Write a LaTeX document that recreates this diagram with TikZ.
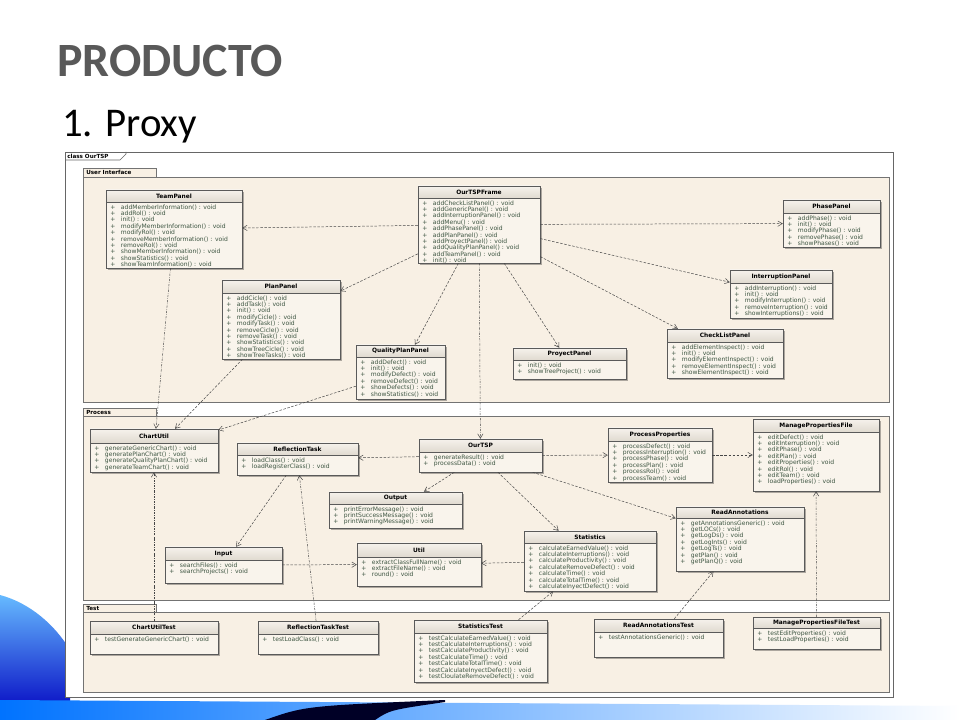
\documentclass[tikz,border=0pt]{standalone}
\usepackage{fontspec}
\setmainfont{Carlito}
\newfontfamily\umlfont{DejaVu Sans}
\usetikzlibrary{calc, fit, shadows, arrows.meta}

\definecolor{pkgfill}{RGB}{248,240,228}
\definecolor{clsfill}{RGB}{249,244,236}
\definecolor{headtop}{RGB}{246,242,236}
\definecolor{headbot}{RGB}{224,218,208}
\definecolor{clsline}{RGB}{90,90,90}
\definecolor{optext}{RGB}{62,86,66}
\definecolor{depline}{RGB}{70,70,70}
\definecolor{titlegray}{RGB}{89,89,89}

\tikzstyle{every node}=[font=\umlfont\fontsize{4.3}{4.3}\selectfont]
\tikzset{
	classbox/.style={draw=clsline, fill=clsfill, line width=0.35pt, inner sep=0pt,
		drop shadow={shadow xshift=1.1pt, shadow yshift=-1.1pt, fill=black, opacity=0.3}},
	classname/.style={inner sep=0pt, font=\umlfont\bfseries\fontsize{4.2}{4.2}\selectfont},
	members/.style={inner sep=0pt, anchor=north west, text=optext},
	pkgbox/.style={draw=black!55, fill=pkgfill, line width=0.6pt},
	pkglabel/.style={anchor=west, inner sep=0pt, font=\umlfont\bfseries\fontsize{4}{4}\selectfont},
	dep/.style={draw=depline, line width=0.35pt, dash pattern=on 1.8pt off 1.1pt,
		-{Straight Barb[length=3.2pt, width=3.8pt]}},
	depdot/.style={dep, dash pattern=on 1.6pt off 0.9pt on 0.4pt off 0.9pt}
}

% name, x1, y1, x2, y2, header bottom, title, operations
\newcommand{\umlclass}[8]{%
	\node[classbox, fit={(#2,#3) (#4,#5)}] (#1) {};
	\shade[top color=headtop, bottom color=headbot] (#2,#3) rectangle (#4,#6);
	\draw[clsline, line width=0.35pt] (#2,#3) rectangle (#4,#5) (#2,#6) -- (#4,#6);
	\node[classname] (#1-name) at ({(#2+#4)/2},{(#3+#6)/2}) {#7};
	\node[members] (#1-ops) at (#2+4,#6+2.2) {\begin{tabular}{@{}l@{}}#8\end{tabular}};
}
\newcommand{\op}[1]{\makebox[7.6pt][l]{+}#1 : void\\}

\begin{document}
\begin{tikzpicture}[x=0.025cm, y=-0.025cm]
	\useasboundingbox[fill=white] (0,0) rectangle (960,720);
	
	% slide decoration
	\shade[top color=cyan!55!blue!60, bottom color=blue!75!black] (0,595) .. controls (30,603) and (55,625) .. (70,650) -- (70,720) -- (0,720) -- cycle;
	\shade[left color=blue!55!cyan, right color=white] (0,700) -- (960,706) -- (960,720) -- (0,720) -- cycle;
	\fill[black!85!blue] (265,720) .. controls (305,706) .. (445,700) -- (445,702) .. controls (390,710) .. (375,720) -- cycle;
	
	% titles
	\node[anchor=base west, inner sep=0pt, text=titlegray, font=\fontsize{34}{34}\selectfont\bfseries] (title) at (57,77) {PRODUCTO};
	\node[anchor=base west, inner sep=0pt, text=black, font=\fontsize{29}{29}\selectfont] (subtitle) at (62,137) {1. Proxy};
	
	% frame
	\draw[black!60, line width=0.5pt, fill=white] (65,152) rectangle (893,697);
	\draw[black!60, line width=0.4pt] (65,160) -- (120,160) -- (126,154) -- (126,152);
	\node[pkglabel] (frametag) at (67,156) {class OurTSP};
	
	% packages
	\foreach \ytab/\ytop/\ybot/\pname in {168/177/402/User Interface, 408/416/600/Process, 604/612/692/Test} {
		\draw[pkgbox] (83,\ytab) rectangle (156,\ytop);
		\draw[pkgbox] (83,\ytop) rectangle (889,\ybot);
		\node[pkglabel] (pkg-\ytop) at (86,{(\ytab+\ytop)/2}) {\pname};
	}
	
	% User Interface
	\umlclass{teampanel}{106}{190}{242}{268}{202}{TeamPanel}{\op{addMemberInformation()}\op{addRol()}\op{init()}\op{modifyMemberInformation()}\op{modifyRol()}\op{removeMemberInformation()}\op{removeRol()}\op{showMemberInformation()}\op{showStatistics()}\op{showTeamInformation()}}
	\umlclass{frame}{418}{186}{540}{263}{198}{OurTSPFrame}{\op{addCheckListPanel()}\op{addGenericPanel()}\op{addInterruptionPanel()}\op{addMenu()}\op{addPhasePanel()}\op{addPlanPanel()}\op{addProyectPanel()}\op{addQualityPlanPanel()}\op{addTeamPanel()}\op{init()}}
	\umlclass{phasepanel}{783}{200}{880}{247}{213}{PhasePanel}{\op{addPhase()}\op{init()}\op{modifyPhase()}\op{removePhase()}\op{showPhases()}}
	\umlclass{interruptionpanel}{730}{270}{832}{318}{283}{InterruptionPanel}{\op{addInterruption()}\op{init()}\op{modifyInterruption()}\op{removeInterruption()}\op{showInterruptions()}}
	\umlclass{planpanel}{222}{280}{340}{359}{293}{PlanPanel}{\op{addCicle()}\op{addTask()}\op{init()}\op{modifyCicle()}\op{modifyTask()}\op{removeCicle()}\op{removeTask()}\op{showStatistics()}\op{showTreeCicle()}\op{showTreeTasks()}}
	\umlclass{qualityplanpanel}{356}{345}{445}{399}{357}{QualityPlanPanel}{\op{addDefect()}\op{init()}\op{modifyDefect()}\op{removeDefect()}\op{showDefects()}\op{showStatistics()}}
	\umlclass{proyectpanel}{513}{348}{626}{379}{360}{ProyectPanel}{\op{init()}\op{showTreeProject()}}
	\umlclass{checklistpanel}{667}{329}{783}{378}{342}{CheckListPanel}{\op{addElementInspect()}\op{init()}\op{modifyElementInspect()}\op{removeElementInspect()}\op{showElementInspect()}}
	
	% Process
	\umlclass{chartutil}{90}{429}{218}{472}{443}{ChartUtil}{\op{generateGenericChart()}\op{generatePlanChart()}\op{generateQualityPlanChart()}\op{generateTeamChart()}}
	\umlclass{reflectiontask}{237}{443}{358}{475}{455}{ReflectionTask}{\op{loadClass()}\op{loadRegisterClass()}}
	\umlclass{ourtsp}{419}{439}{542}{472}{452}{OurTSP}{\op{generateResult()}\op{processData()}}
	\umlclass{processproperties}{608}{428}{712}{482}{441}{ProcessProperties}{\op{processDefect()}\op{processInterruption()}\op{processPhase()}\op{processPlan()}\op{processRol()}\op{processTeam()}}
	\umlclass{managefile}{753}{419}{879}{491}{432}{ManagePropertiesFile}{\op{editDefect()}\op{editInterruption()}\op{editPhase()}\op{editPlan()}\op{editProperties()}\op{editRol()}\op{editTeam()}\op{loadProperties()}}
	\umlclass{output}{329}{492}{462}{528}{504}{Output}{\op{printErrorMessage()}\op{printSuccessMessage()}\op{printWarningMessage()}}
	\umlclass{readannotations}{676}{507}{804}{571}{518}{ReadAnnotations}{\op{getAnnotationsGeneric()}\op{getLOCs()}\op{getLogDs()}\op{getLogInts()}\op{getLogTs()}\op{getPlan()}\op{getPlanQ()}}
	\umlclass{input}{165}{547}{282}{583}{560}{Input}{\op{searchFiles()}\op{searchProjects()}}
	\umlclass{util}{357}{543}{481}{586}{557}{Util}{\op{extractClassFullName()}\op{extractFileName()}\op{round()}}
	\umlclass{statistics}{524}{531}{656}{591}{543}{Statistics}{\op{calculateEarnedValue()}\op{calculateInterruptions()}\op{calculateProductivity()}\op{calculateRemoveDefect()}\op{calculateTime()}\op{calculateTotalTime()}\op{calculateInyectDefect()}}
	
	% Test
	\umlclass{chartutiltest}{90}{621}{218}{654}{634}{ChartUtilTest}{\op{testGenerateGenericChart()}}
	\umlclass{reflectiontest}{258}{621}{378}{654}{634}{ReflectionTaskTest}{\op{testLoadClass()}}
	\umlclass{statisticstest}{414}{620}{547}{682}{633}{StatisticsTest}{\op{testCalculateEarnedValue()}\op{testCalculateInterruptions()}\op{testCalculateProductivity()}\op{testCalculateTime()}\op{testCalculateTotalTime()}\op{testCalculateInyectDefect()}\op{testCloulateRemoveDefect()}}
	\umlclass{annotationstest}{594}{619}{723}{657}{632}{ReadAnnotationsTest}{\op{testAnnotationsGeneric()}}
	\umlclass{managefiletest}{753}{617}{880}{649}{628}{ManagePropertiesFileTest}{\op{testEditProperties()}\op{testLoadProperties()}}
	
	% dependencies
	\draw[dep] (frame) -- (teampanel);
	\draw[dep] (frame) -- (phasepanel);
	\draw[dep] (frame) -- (interruptionpanel);
	\draw[dep] (frame) -- (planpanel);
	\draw[dep] (frame) -- (qualityplanpanel);
	\draw[dep] (frame) -- (proyectpanel);
	\draw[dep] (frame) -- (checklistpanel);
	\draw[depdot] (frame) -- (ourtsp);
	\draw[depdot] (teampanel) -- (chartutil);
	\draw[dep] (planpanel) -- (chartutil);
	\draw[dep] (qualityplanpanel) -- (chartutil);
	
	\draw[dep] (ourtsp) -- (reflectiontask);
	\draw[dep] (ourtsp) -- (processproperties);
	\draw[dep] (processproperties) -- (managefile);
	\draw[dep] (ourtsp) -- (output);
	\draw[dep] (ourtsp) -- (statistics);
	\draw[dep] (ourtsp) -- (readannotations);
	\draw[dep] (reflectiontask) -- (input);
	\draw[dep] (input) -- (util);
	\draw[dep] (statistics) -- (util);
	
	\draw[depdot] (chartutiltest) -- (chartutil);
	\draw[depdot] (reflectiontest) -- (reflectiontask);
	\draw[dep] (statisticstest) -- (statistics);
	\draw[dep] (annotationstest) -- (readannotations);
	\draw[depdot] (managefiletest) -- (managefile);
\end{tikzpicture}
\end{document}
